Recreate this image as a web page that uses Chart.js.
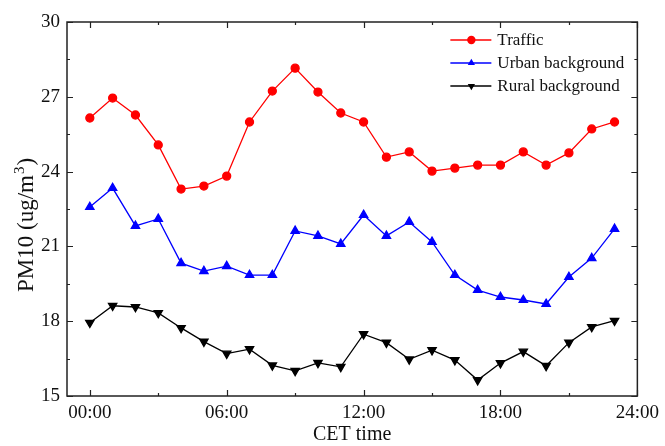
<!DOCTYPE html>
<html>
<head>
<meta charset="utf-8">
<script src="https://cdn.jsdelivr.net/npm/chart.js@4.4.1/dist/chart.umd.min.js"></script>
<style>
  html, body { margin: 0; padding: 0; background: #fff; }
  #wrap { width: 665px; height: 446px; }
</style>
</head>
<body>
<div id="wrap"><canvas id="pmChart"></canvas></div>
<script>
// Hour of day (CET)
const hours = [0, 1, 2, 3, 4, 5, 6, 7, 8, 9, 10, 11, 12, 13, 14, 15, 16, 17, 18, 19, 20, 21, 22, 23];

// PM10 values
const traffic = [26.15, 26.95, 26.27, 25.07, 23.30, 23.42, 23.82, 25.99, 27.23, 28.15, 27.19, 26.35,
                 25.99, 24.58, 24.79, 24.02, 24.14, 24.26, 24.26, 24.79, 24.26, 24.75, 25.71, 25.99];
const urban = [22.58, 23.34, 21.82, 22.10, 20.33, 20.01, 20.21, 19.85, 19.85, 21.62, 21.42, 21.10,
               22.26, 21.42, 21.98, 21.18, 19.85, 19.25, 18.97, 18.85, 18.69, 19.77, 20.53, 21.70];
const rural = [17.94, 18.62, 18.57, 18.33, 17.73, 17.18, 16.70, 16.88, 16.23, 16.01, 16.33, 16.17,
               17.48, 17.14, 16.47, 16.84, 16.44, 15.64, 16.32, 16.78, 16.21, 17.14, 17.77, 18.02];

const seriesNames = ['Traffic', 'Urban background', 'Rural background'];

// Axis ticks
const xTickValues = [0, 6, 12, 18, 24];
const xMinorStep = 3;
const yTickValues = [15, 18, 21, 24, 27, 30];
const yMinorStep = 1.5;

const FONT = "'Liberation Serif', 'Times New Roman', serif";

function toPoints(values) {
    return hours.map((h, i) => ({ x: h, y: values[i] }));
}

function drawMarker(ctx, style, x, y, r, color) {
    ctx.fillStyle = color;
    ctx.beginPath();
    if (style === 'circle') {
        ctx.arc(x, y, r, 0, Math.PI * 2);
    } else {
        const dir = style === 'down' ? -1 : 1;
        const h = r * 1.5, w = r * Math.sqrt(3) / 2;
        ctx.moveTo(x, y - dir * r);
        ctx.lineTo(x - w, y + dir * h / 3);
        ctx.lineTo(x + w, y + dir * h / 3);
        ctx.closePath();
    }
    ctx.fill();
}

// Box frame with inward ticks on all four sides
const frameTicks = {
    id: 'frameTicks',
    afterDraw(chart) {
        const { ctx, chartArea: a, scales: { x, y } } = chart;
        ctx.save();
        ctx.strokeStyle = '#222';
        ctx.lineWidth = 1.5;
        ctx.strokeRect(a.left, a.top, a.right - a.left, a.bottom - a.top);
        ctx.lineWidth = 1.2;
        ctx.beginPath();
        for (let h = 0; h <= 24; h += xMinorStep) {
            const px = Math.round(x.getPixelForValue(h)) + 0.5;
            const len = xTickValues.includes(h) ? 6 : 3;
            ctx.moveTo(px, a.bottom); ctx.lineTo(px, a.bottom - len);
            ctx.moveTo(px, a.top); ctx.lineTo(px, a.top + len);
        }
        for (let v = 15; v <= 30; v += yMinorStep) {
            const py = Math.round(y.getPixelForValue(v)) + 0.5;
            const len = yTickValues.includes(v) ? 6 : 3;
            ctx.moveTo(a.left, py); ctx.lineTo(a.left + len, py);
            ctx.moveTo(a.right, py); ctx.lineTo(a.right - len, py);
        }
        ctx.stroke();
        ctx.restore();
    }
};

// Y title with a real superscript 3
const yTitle = {
    id: 'yTitle',
    afterDraw(chart) {
        const { ctx } = chart;
        ctx.save();
        ctx.translate(33, 292);
        ctx.rotate(-Math.PI / 2);
        ctx.fillStyle = '#111';
        ctx.textBaseline = 'alphabetic';
        ctx.textAlign = 'left';
        let cx = 0;
        ctx.font = '23px ' + FONT;
        const main = 'PM10 (ug/m';
        ctx.fillText(main, cx, 0);
        cx += ctx.measureText(main).width + 1;
        ctx.font = '15px ' + FONT;
        ctx.fillText('3', cx, -9);
        cx += ctx.measureText('3').width + 1;
        ctx.font = '23px ' + FONT;
        ctx.fillText(')', cx, 0);
        ctx.restore();
    }
};

// Legend with line + marker, inside the top right corner
const lineLegend = {
    id: 'lineLegend',
    afterDraw(chart) {
        const { ctx, chartArea: a } = chart;
        const styles = ['circle', 'up', 'down'];
        const x0 = a.right - 188, y0 = a.top + 18, rowH = 23;
        ctx.save();
        ctx.font = '17px ' + FONT;
        ctx.textBaseline = 'middle';
        chart.data.datasets.forEach((ds, i) => {
            const yy = y0 + i * rowH;
            ctx.strokeStyle = ds.borderColor;
            ctx.lineWidth = 1.3;
            ctx.beginPath();
            ctx.moveTo(x0 + 1, yy); ctx.lineTo(x0 + 42, yy);
            ctx.stroke();
            drawMarker(ctx, styles[i], x0 + 22, yy, 4.2, ds.borderColor);
            ctx.fillStyle = '#111';
            ctx.fillText(ds.label, x0 + 48, yy + 1);
        });
        ctx.restore();
    }
};

const ctx = document.getElementById('pmChart').getContext('2d');
new Chart(ctx, {
    type: 'line',
    data: {
        datasets: [
            {
                label: seriesNames[0], data: toPoints(traffic),
                borderColor: '#ff0000', backgroundColor: '#ff0000',
                pointStyle: 'circle', pointRadius: 4, borderWidth: 1.3
            },
            {
                label: seriesNames[1], data: toPoints(urban),
                borderColor: '#0000ff', backgroundColor: '#0000ff',
                pointStyle: 'triangle', pointRadius: 4.8, borderWidth: 1.3
            },
            {
                label: seriesNames[2], data: toPoints(rural),
                borderColor: '#000000', backgroundColor: '#000000',
                pointStyle: 'triangle', pointRotation: 180, pointRadius: 4.8, borderWidth: 1.3
            }
        ]
    },
    options: {
        responsive: true,
        maintainAspectRatio: false,
        animation: false,
        layout: { padding: { top: 22, right: 24, left: 0, bottom: 0 } },
        elements: { line: { tension: 0 }, point: { borderWidth: 0, hoverRadius: 5 } },
        plugins: { legend: { display: false }, tooltip: { enabled: false } },
        scales: {
            x: {
                type: 'linear',
                min: -1,
                max: 24,
                afterBuildTicks: (scale) => { scale.ticks = xTickValues.map(v => ({ value: v })); },
                afterFit: (scale) => { scale.height = 50; },
                grid: { display: false, drawTicks: false },
                border: { display: false },
                ticks: {
                    color: '#111',
                    padding: 6,
                    maxRotation: 0,
                    font: { family: FONT, size: 19 },
                    callback: (v) => String(v).padStart(2, '0') + ':00'
                },
                title: {
                    display: true,
                    text: 'CET time',
                    color: '#111',
                    font: { family: FONT, size: 20, lineHeight: 1 },
                    padding: { top: 0, bottom: 1 }
                }
            },
            y: {
                min: 15,
                max: 30,
                afterBuildTicks: (scale) => { scale.ticks = yTickValues.map(v => ({ value: v })); },
                afterFit: (scale) => { scale.width = 67; },
                grid: { display: false, drawTicks: false },
                border: { display: false },
                ticks: {
                    color: '#111',
                    padding: 7,
                    font: { family: FONT, size: 19 }
                },
                title: { display: false }
            }
        }
    },
    plugins: [frameTicks, yTitle, lineLegend]
});
</script>
</body>
</html>
